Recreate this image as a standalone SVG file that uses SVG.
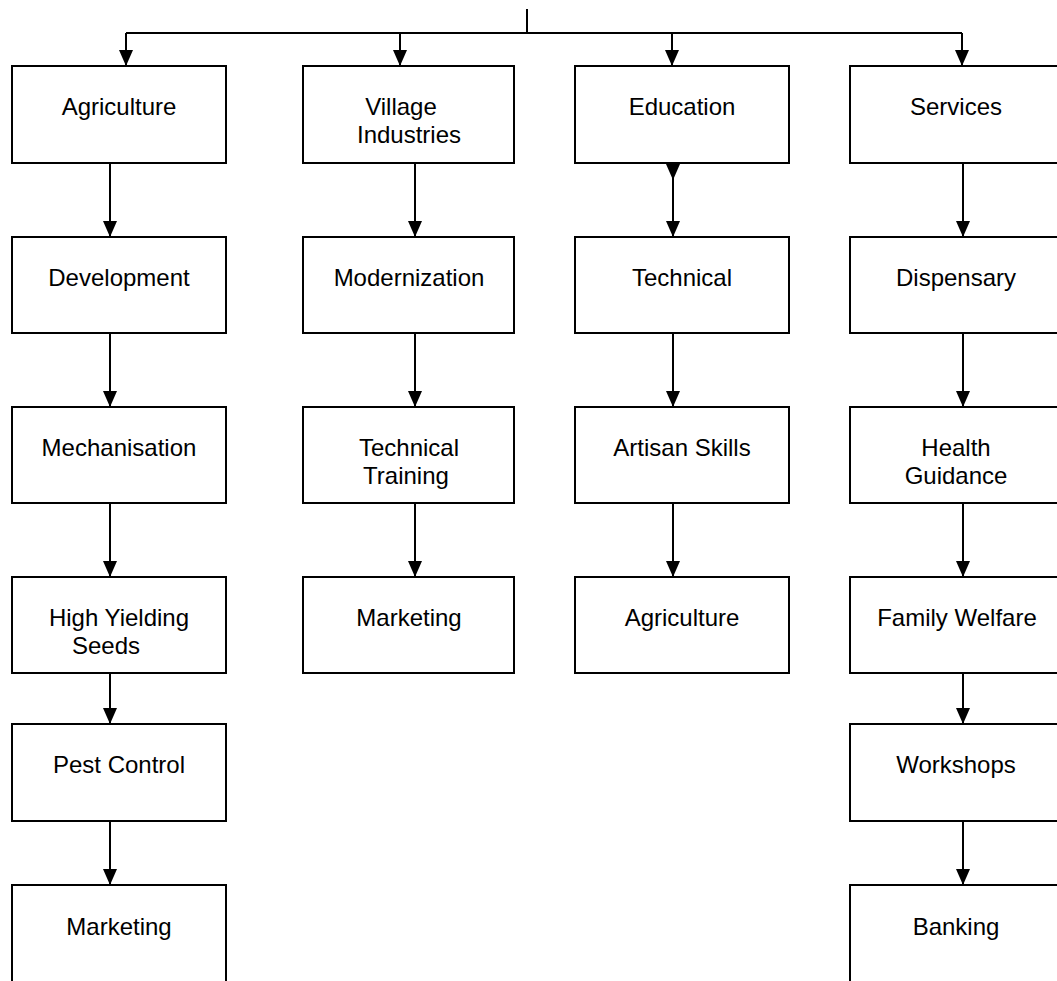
<svg xmlns="http://www.w3.org/2000/svg" width="1057" height="981" viewBox="0 0 1057 981">
<style>
.box{fill:#fff;stroke:#000;stroke-width:2}
.lbl{font-family:"Liberation Sans",Arial,sans-serif;font-size:24px;fill:#000;text-anchor:middle}
.conn{fill:none;stroke:#000;stroke-width:2}
</style>
<defs>
<marker id="ah" markerUnits="userSpaceOnUse" markerWidth="16" markerHeight="14" viewBox="0 0 16 14" refX="16" refY="7" orient="auto">
<path d="M0,0 L16,7 L0,14 z" fill="#000"/>
</marker>
</defs>
<rect width="1057" height="981" fill="#fff"/>
<g id="connectors">
<path class="conn" d="M527,9 V33"/>
<path class="conn" d="M126,33 H962"/>
<path class="conn" d="M126,33 V66" marker-end="url(#ah)"/>
<path class="conn" d="M400,33 V66" marker-end="url(#ah)"/>
<path class="conn" d="M672,33 V66" marker-end="url(#ah)"/>
<path class="conn" d="M962,33 V66" marker-end="url(#ah)"/>
<path class="conn" d="M110,163 V237" marker-end="url(#ah)"/>
<path class="conn" d="M110,333 V407" marker-end="url(#ah)"/>
<path class="conn" d="M110,503 V577" marker-end="url(#ah)"/>
<path class="conn" d="M110,673 V724" marker-end="url(#ah)"/>
<path class="conn" d="M110,821 V885" marker-end="url(#ah)"/>
<path class="conn" d="M415,163 V237" marker-end="url(#ah)"/>
<path class="conn" d="M415,333 V407" marker-end="url(#ah)"/>
<path class="conn" d="M415,503 V577" marker-end="url(#ah)"/>
<path class="conn" d="M673,163 V237" marker-end="url(#ah)"/>
<polygon points="666,164 680,164 673,180" fill="#000"/>
<path class="conn" d="M673,333 V407" marker-end="url(#ah)"/>
<path class="conn" d="M673,503 V577" marker-end="url(#ah)"/>
<path class="conn" d="M963,163 V237" marker-end="url(#ah)"/>
<path class="conn" d="M963,333 V407" marker-end="url(#ah)"/>
<path class="conn" d="M963,503 V577" marker-end="url(#ah)"/>
<path class="conn" d="M963,673 V724" marker-end="url(#ah)"/>
<path class="conn" d="M963,821 V885" marker-end="url(#ah)"/>
</g>
<g id="n-agriculture"><rect class="box" x="12" y="66" width="214" height="97"/><text class="lbl" x="119" y="115">Agriculture</text></g>
<g id="n-development"><rect class="box" x="12" y="237" width="214" height="96"/><text class="lbl" x="119" y="286">Development</text></g>
<g id="n-mechanisation"><rect class="box" x="12" y="407" width="214" height="96"/><text class="lbl" x="119" y="456">Mechanisation</text></g>
<g id="n-hys"><rect class="box" x="12" y="577" width="214" height="96"/><text class="lbl" x="119" y="626">High Yielding</text><text class="lbl" x="106" y="654">Seeds</text></g>
<g id="n-pest"><rect class="box" x="12" y="724" width="214" height="97"/><text class="lbl" x="119" y="773">Pest Control</text></g>
<g id="n-marketing1"><rect class="box" x="12" y="885" width="214" height="110"/><text class="lbl" x="119" y="935">Marketing</text></g>
<g id="n-village"><rect class="box" x="303" y="66" width="211" height="97"/><text class="lbl" x="401" y="115">Village</text><text class="lbl" x="409" y="143">Industries</text></g>
<g id="n-modernization"><rect class="box" x="303" y="237" width="211" height="96"/><text class="lbl" x="409" y="286">Modernization</text></g>
<g id="n-techtraining"><rect class="box" x="303" y="407" width="211" height="96"/><text class="lbl" x="409" y="456">Technical</text><text class="lbl" x="406" y="484">Training</text></g>
<g id="n-marketing2"><rect class="box" x="303" y="577" width="211" height="96"/><text class="lbl" x="409" y="626">Marketing</text></g>
<g id="n-education"><rect class="box" x="575" y="66" width="214" height="97"/><text class="lbl" x="682" y="115">Education</text></g>
<g id="n-technical"><rect class="box" x="575" y="237" width="214" height="96"/><text class="lbl" x="682" y="286">Technical</text></g>
<g id="n-artisan"><rect class="box" x="575" y="407" width="214" height="96"/><text class="lbl" x="682" y="456">Artisan Skills</text></g>
<g id="n-agriculture2"><rect class="box" x="575" y="577" width="214" height="96"/><text class="lbl" x="682" y="626">Agriculture</text></g>
<g id="n-services"><rect class="box" x="850" y="66" width="215" height="97"/><text class="lbl" x="956" y="115">Services</text></g>
<g id="n-dispensary"><rect class="box" x="850" y="237" width="215" height="96"/><text class="lbl" x="956" y="286">Dispensary</text></g>
<g id="n-health"><rect class="box" x="850" y="407" width="215" height="96"/><text class="lbl" x="956" y="456">Health</text><text class="lbl" x="956" y="484">Guidance</text></g>
<g id="n-family"><rect class="box" x="850" y="577" width="215" height="96"/><text class="lbl" x="957" y="626">Family Welfare</text></g>
<g id="n-workshops"><rect class="box" x="850" y="724" width="215" height="97"/><text class="lbl" x="956" y="773">Workshops</text></g>
<g id="n-banking"><rect class="box" x="850" y="885" width="215" height="110"/><text class="lbl" x="956" y="935">Banking</text></g>
</svg>
